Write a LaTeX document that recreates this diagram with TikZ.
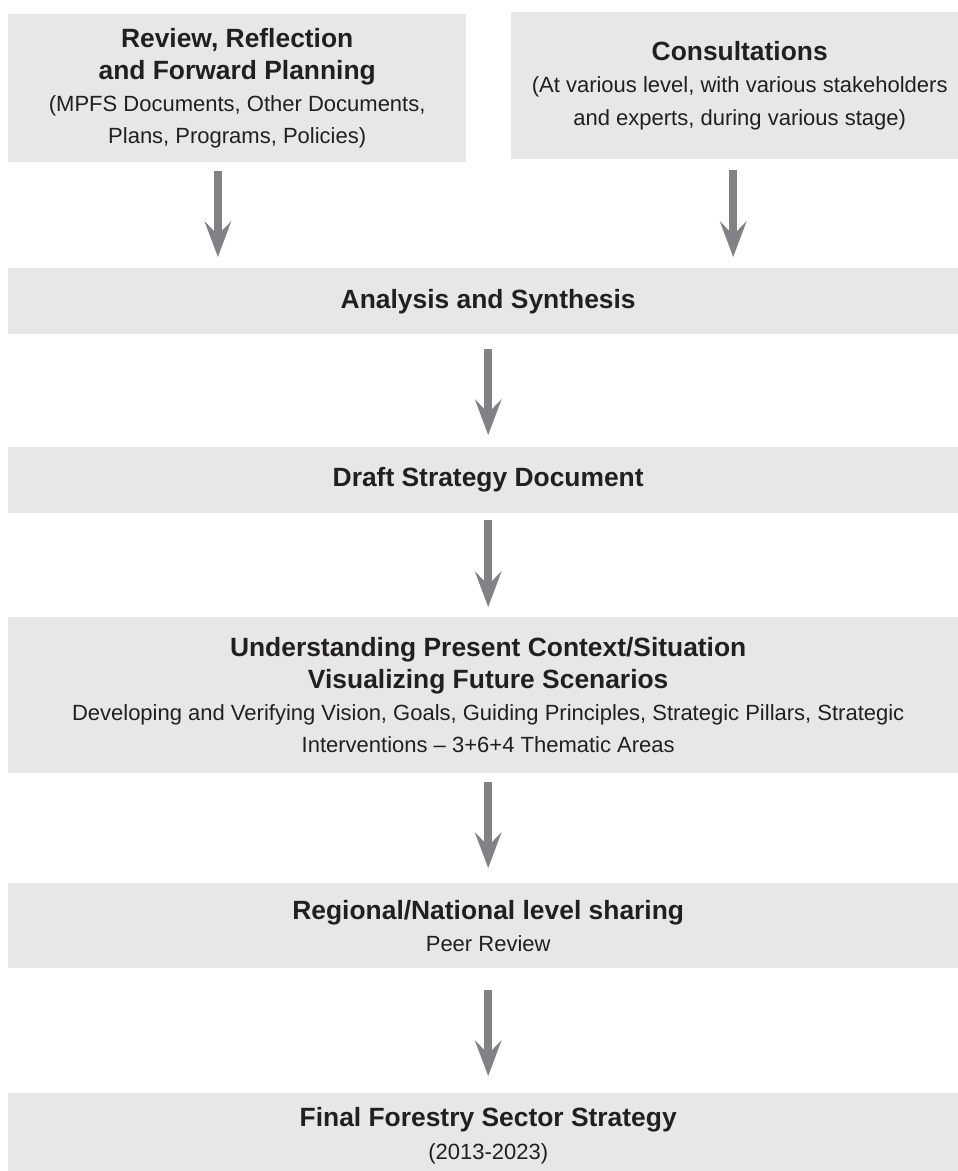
\documentclass[tikz,border=0pt]{standalone}
\usepackage{fontspec}
\setmainfont{Liberation Sans}
\usepackage{tikz}
\usetikzlibrary{arrows.meta}

\definecolor{boxgray}{HTML}{E6E7E8}
\definecolor{arrowgray}{HTML}{808285}
\definecolor{textdark}{HTML}{231F20}
\newcommand{\boxhead}[1]{{\fontsize{26.4}{32.2}\selectfont\bfseries #1}}

\begin{document}
\begin{tikzpicture}[x=1pt, y=-1pt,
    stage/.style={fill=boxgray, text=textdark, inner sep=0pt, anchor=north west,
        align=center, font=\fontsize{22}{32.2}\selectfont},
    flow/.style={draw=arrowgray, line width=7.5pt,
        -{Stealth[length=36pt, width=27pt, inset=14pt, line width=0pt]}}]
    \useasboundingbox (0,0) rectangle (958,1171);
    \clip (0,0) rectangle (958,1171);
    % top boxes
    \node[stage, minimum width=458, minimum height=148] (review) at (8,14)
        {\boxhead{Review, Reflection}\\ \boxhead{and Forward Planning}\\
         (MPFS Documents, Other Documents,\\ Plans, Programs, Policies)};
    \node[stage, minimum width=457, minimum height=147] (consult) at (511,12)
        {\boxhead{Consultations}\\ (At various level, with various stakeholders\\
         and experts, during various stage)};
    % main column
    \node[stage, minimum width=960, minimum height=66] (analysis) at (8,268)
        {\boxhead{Analysis and Synthesis}};
    \node[stage, minimum width=960, minimum height=66] (draft) at (8,447)
        {\boxhead{Draft Strategy Document}};
    \node[stage, minimum width=960, minimum height=156] (understand) at (8,617)
        {\boxhead{Understanding Present Context/Situation}\\
         \boxhead{Visualizing Future Scenarios}\\
         Developing and Verifying Vision, Goals, Guiding Principles, Strategic Pillars, Strategic\\
         Interventions -- 3+6+4 Thematic Areas};
    \node[stage, minimum width=960, minimum height=85] (regional) at (8,883)
        {\boxhead{Regional/National level sharing}\\ Peer Review};
    \node[stage, minimum width=960, minimum height=85] (final) at (8,1093)
        {\boxhead{Final Forestry Sector Strategy}\\ (2013-2023)};
    % arrows
    \draw[flow, shorten <=9pt, shorten >=11pt]
        ([xshift=-19.3pt]review.south) -- ([xshift=-19.3pt]review.south |- analysis.north);
    \draw[flow, shorten <=11pt, shorten >=11pt]
        ([xshift=-6.5pt]consult.south) -- ([xshift=-6.5pt]consult.south |- analysis.north);
    \draw[flow, shorten <=15pt, shorten >=12pt] (analysis) -- (draft);
    \draw[flow, shorten <=7pt, shorten >=10pt] (draft) -- (understand);
    \draw[flow, shorten <=9pt, shorten >=15pt] (understand) -- (regional);
    \draw[flow, shorten <=22pt, shorten >=17pt] (regional) -- (final);
\end{tikzpicture}
\end{document}
